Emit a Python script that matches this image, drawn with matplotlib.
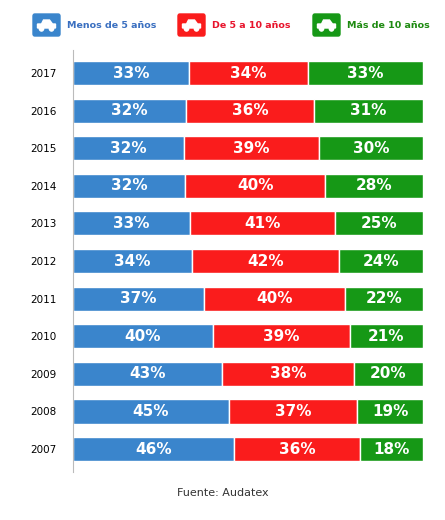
import matplotlib.pyplot as plt
from matplotlib.patches import FancyBboxPatch, Circle, Polygon
import numpy as np

years = ['2007', '2008', '2009', '2010', '2011', '2012', '2013', '2014', '2015', '2016', '2017']
menos5 = [46, 45, 43, 40, 37, 34, 33, 32, 32, 32, 33]
de5a10 = [36, 37, 38, 39, 40, 42, 41, 40, 39, 36, 34]
mas10 = [18, 19, 20, 21, 22, 24, 25, 28, 30, 31, 33]
labels = ['Menos de 5 años', 'De 5 a 10 años', 'Más de 10 años']
colors = ['#3a85cc', '#fa1c1c', '#169816']
text_colors = ['#3a6fc0', '#e8132b', '#1d8a10']

fig = plt.figure(figsize=(4.45, 5.2), dpi=100)
ax = fig.add_axes([0.164, 0.093, 0.787, 0.81])

series = np.array([menos5, de5a10, mas10], dtype=float)
totals = series.sum(axis=0)
y = np.arange(len(years))
left = np.zeros(len(years))
for vals, c in zip(series, colors):
    w = vals / totals * 100
    ax.barh(y, w, left=left, height=0.64, color=c, edgecolor='white', linewidth=1)
    for yi, li, wi, v in zip(y, left, w, vals):
        ax.text(li + wi / 2, yi, f'{int(v)}%', ha='center', va='center',
                color='white', fontsize=11, fontweight='bold')
    left += w

ax.set_xlim(0, 100)
ax.set_ylim(-0.6, 10.6)
ax.set_yticks(y)
ax.set_yticklabels(years, fontsize=7.5)
ax.set_xticks([])
for s in ['top', 'right', 'bottom']:
    ax.spines[s].set_visible(False)
ax.spines['left'].set_color('#bbbbbb')
ax.tick_params(axis='y', length=0, pad=12)

# legend with car icons
W, H = 445, 520
def car_icon(x, y, c):
    fig.patches.append(FancyBboxPatch((x / W, 1 - (y + 22) / H), 27 / W, 22 / H,
                                      boxstyle='round,pad=0,rounding_size=0.004',
                                      transform=fig.transFigure, color=c))
    cx, cy = x + 13.5, y + 11
    body = Polygon([((cx - 9) / W, 1 - (cy + 3) / H), ((cx - 9) / W, 1 - (cy - 1) / H),
                    ((cx - 5) / W, 1 - (cy - 1) / H), ((cx - 3) / W, 1 - (cy - 5) / H),
                    ((cx + 3) / W, 1 - (cy - 5) / H), ((cx + 6) / W, 1 - (cy - 1) / H),
                    ((cx + 9) / W, 1 - (cy - 1) / H), ((cx + 9) / W, 1 - (cy + 3) / H)],
                   closed=True, transform=fig.transFigure, color='white')
    fig.patches.append(body)
    for dx in (-5, 5):
        fig.patches.append(Circle(((cx + dx) / W, 1 - (cy + 3.5) / H), 2.2 / W,
                                  transform=fig.transFigure, color='white'))

icon_x = [33, 178, 313]
for ix, lab, c, tc in zip(icon_x, labels, colors, text_colors):
    car_icon(ix, 14, c)
    fig.text((ix + 34) / W, 1 - 25 / H, lab, color=tc, fontsize=6.8,
             fontweight='bold', va='center')

fig.text(0.5, 1 - 493 / H, 'Fuente: Audatex', ha='center', va='center',
         fontsize=8, color='#333333')

fig.savefig('out.png', dpi=100)
